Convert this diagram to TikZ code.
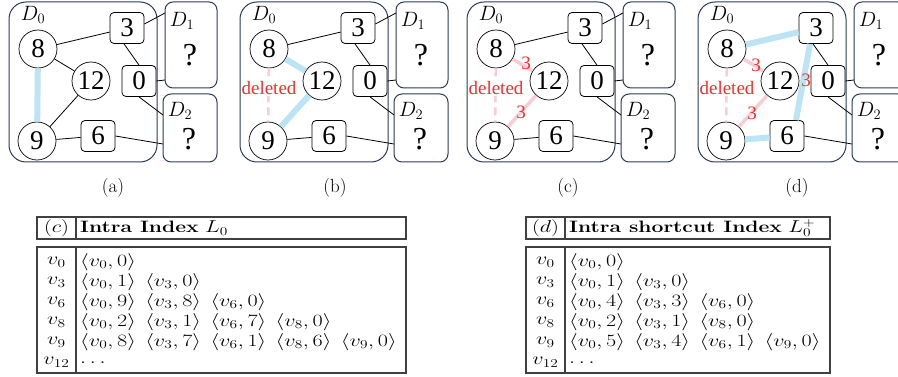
\documentclass[tikz,border=0pt]{standalone}
\usepackage{graphicx}
\usepackage{fontspec}
\newfontfamily\gfont{Liberation Serif}
\usetikzlibrary{calc}
\definecolor{hlblue}{HTML}{BDE4F4}
\definecolor{pinkc}{HTML}{F9CDD3}
\definecolor{redc}{HTML}{FF2A2A}
\definecolor{domc}{HTML}{2B3A5A}
\definecolor{tabc}{HTML}{404040}
\newcommand\tstr[1]{\scalebox{1.28}[1]{#1}}
\newcommand\itm[2]{\langle v_{#1},#2\rangle}
\newcommand\gp{\hspace{0.45em}}
\tikzset{
  vtx/.style={circle, draw, fill=white, minimum size=38pt, inner sep=0pt, line width=0.7pt, font=\gfont\fontsize{27}{27}\selectfont},
  bx/.style={draw, rounded corners=4pt, fill=white, minimum width=34pt, minimum height=31pt, inner sep=0pt, line width=0.8pt, font=\gfont\fontsize{27}{27}\selectfont},
  dombox/.style={draw=domc, line width=1pt, inner sep=0pt},
  dlab/.style={inner sep=0pt, font=\fontsize{22}{22}\selectfont},
  qm/.style={inner sep=0pt, font=\gfont\fontsize{32}{32}\selectfont},
  ln/.style={line width=0.8pt},
  hl/.style={line width=6pt, hlblue},
  pk/.style={line width=3.5pt, pinkc},
  pkd/.style={line width=2.5pt, pinkc, dash pattern=on 8pt off 5pt},
  dellab/.style={fill=white, inner sep=1pt, text=redc, font=\gfont\fontsize{19}{19}\selectfont},
  wlab/.style={inner sep=0pt, text=redc, font=\gfont\fontsize{19}{19}\selectfont},
  captxt/.style={inner sep=0pt, font=\fontsize{19}{19}\selectfont},
  tline/.style={line width=1.2pt, tabc},
  tt/.style={inner sep=0pt, font=\fontsize{16.5}{18}\selectfont},
}
\newcommand\basegraph[2]{%
 \begin{scope}[shift={(#2,0)}]
  \node[dombox, rounded corners=17pt, minimum width=148pt, minimum height=160pt] (#1D0) at (74,82) {};
  \node[dombox, rounded corners=8pt, minimum width=52pt, minimum height=86pt] (#1D1) at (182,45) {};
  \node[dombox, rounded corners=8pt, minimum width=54pt, minimum height=68pt] (#1D2) at (181,128) {};
  \node[dlab] (#1L0) at (24,15) {$D_0$};
  \node[dlab] (#1L1) at (173,21) {$D_1$};
  \node[dlab] (#1L2) at (171,111) {$D_2$};
  \node[qm] (#1q1) at (181,55) {?};
  \node[qm] (#1q2) at (180,139) {?};
  \node[vtx] (#1n8) at (29,49) {8};
  \node[vtx] (#1n12) at (82,81) {12};
  \node[vtx] (#1n9) at (28,141) {9};
  \node[bx] (#1n3) at (118,28) {3};
  \node[bx] (#1n0) at (130,81) {0};
  \node[bx] (#1n6) at (89,136) {6};
  \coordinate (#1c31) at (156,13);
  \coordinate (#1c01) at (156,80);
  \coordinate (#1c02) at (154,115);
  \coordinate (#1c62) at (154,144);
  \coordinate (#1del) at (29,88);
 \end{scope}}
\begin{document}
\begin{tikzpicture}[x=1pt, y=-1pt]
\useasboundingbox (0,0) rectangle (898,377);
\clip (0,0) rectangle (898,377);

% ---------- panel (a)
\basegraph{a}{9}
\draw[ln] (an8) -- (an3);
\draw[ln] (an8) -- (an12);
\draw[ln] (an12) -- (an9);
\draw[ln] (an9) -- (an6);
\draw[ln] ($(an3.south)+(-3,0)$) -- (an0.north);
\draw[ln] ($(an3.east)+(0,-4)$) -- (ac31);
\draw[ln] (an0.east) -- (ac01);
\draw[ln] (an0.south) -- (ac02);
\draw[ln] (an6.east) -- (ac62);
\draw[hl] (an8) -- (an9);
\node[captxt] (capa) at (113,188) {(a)};

% ---------- panel (b)
\basegraph{b}{240}
\draw[ln] (bn8) -- (bn3);
\draw[ln] (bn9) -- (bn6);
\draw[ln] ($(bn3.south)+(-3,0)$) -- (bn0.north);
\draw[ln] ($(bn3.east)+(0,-4)$) -- (bc31);
\draw[ln] (bn0.east) -- (bc01);
\draw[ln] (bn0.south) -- (bc02);
\draw[ln] (bn6.east) -- (bc62);
\draw[hl] (bn8) -- (bn12);
\draw[hl] (bn12) -- (bn9);
\draw[pkd] (bn8) -- (bn9);
\node[dellab] (bd) at (bdel) {deleted};
\node[captxt] (capb) at (335,188) {(b)};

% ---------- panel (c)
\basegraph{c}{467}
\draw[ln] (cn8) -- (cn3);
\draw[ln] (cn9) -- (cn6);
\draw[ln] ($(cn3.south)+(-3,0)$) -- (cn0.north);
\draw[ln] ($(cn3.east)+(0,-4)$) -- (cc31);
\draw[ln] (cn0.east) -- (cc01);
\draw[ln] (cn0.south) -- (cc02);
\draw[ln] (cn6.east) -- (cc62);
\draw[pk] (cn8) -- (cn12);
\draw[pk] (cn12) -- (cn9);
\draw[pkd] (cn8) -- (cn9);
\node[dellab] (cd) at (cdel) {deleted};
\node[wlab] (cw1) at (526,63) {3};
\node[wlab] (cw2) at (521,112) {3};
\node[captxt] (capc) at (568,188) {(c)};

% ---------- panel (d)
\basegraph{d}{698}
\draw[ln] ($(dn3.south)+(-3,0)$) -- (dn0.north);
\draw[ln] (dn0.east) -- (dc01);
\draw[ln] (dn0.south) -- (dc02);
\draw[ln] (dn6.east) -- (dc62);
\draw[pk] (dn8) -- (dn12);
\draw[pk] (dn12) -- (dn9);
\draw[pkd] (dn8) -- (dn9);
\draw[hl] (dn8) -- (dn3);
\draw[hl] ($(dn3.south)+(-6,0)$) -- ($(dn6.north)+(9,0)$);
\draw[hl] (dn9) -- (dn6);
\node[dellab] (dd) at (ddel) {deleted};
\node[wlab] (dw1) at (756,65) {3};
\node[wlab] (dw2) at (752,113) {3};
\node[wlab] (dw3) at (806,80) {3};
\node[captxt] (capd) at (797,188) {(d)};

% ---------- table (c)
\draw[tline] (37,217) rectangle (406,239);
\draw[tline] (76,217) -- (76,239);
\draw[tline] (37,247) rectangle (406,373);
\draw[tline] (76,247) -- (76,373);
\node[tt] (ch0) at (56.5,228) {\tstr{$(c)$}};
\node[tt, anchor=west] (ch1) at (80,228) {\tstr{\textbf{Intra Index} $L_0$}};
\node[tt] (cl0) at (56.5,262) {\tstr{$v_0$}};
\node[tt] (cl3) at (56.5,282) {\tstr{$v_3$}};
\node[tt] (cl6) at (56.5,302) {\tstr{$v_6$}};
\node[tt] (cl8) at (56.5,322) {\tstr{$v_8$}};
\node[tt] (cl9) at (56.5,342) {\tstr{$v_9$}};
\node[tt] (cl12) at (56.5,362) {\tstr{$v_{12}$}};
\node[tt, anchor=west] (cr0) at (80,262) {\tstr{$\itm{0}{0}$}};
\node[tt, anchor=west] (cr3) at (80,282) {\tstr{$\itm{0}{1}\gp\itm{3}{0}$}};
\node[tt, anchor=west] (cr6) at (80,302) {\tstr{$\itm{0}{9}\gp\itm{3}{8}\gp\itm{6}{0}$}};
\node[tt, anchor=west] (cr8) at (80,322) {\tstr{$\itm{0}{2}\gp\itm{3}{1}\gp\itm{6}{7}\gp\itm{8}{0}$}};
\node[tt, anchor=west] (cr9) at (80,342) {\tstr{$\itm{0}{8}\gp\itm{3}{7}\gp\itm{6}{1}\gp\itm{8}{6}\gp\itm{9}{0}$}};
\node[tt, anchor=west] (cr12) at (80,363) {\tstr{$\ldots$}};

% ---------- table (d)
\draw[tline] (526,217) rectangle (830,239);
\draw[tline] (565,217) -- (565,239);
\draw[tline] (526,247) rectangle (830,373);
\draw[tline] (565,247) -- (565,373);
\node[tt] (dh0) at (545.5,228) {\tstr{$(d)$}};
\node[tt, anchor=west] (dh1) at (569,228) {\tstr{\textbf{Intra shortcut Index} $L_0^+$}};
\node[tt] (dl0) at (545.5,262) {\tstr{$v_0$}};
\node[tt] (dl3) at (545.5,282) {\tstr{$v_3$}};
\node[tt] (dl6) at (545.5,302) {\tstr{$v_6$}};
\node[tt] (dl8) at (545.5,322) {\tstr{$v_8$}};
\node[tt] (dl9) at (545.5,342) {\tstr{$v_9$}};
\node[tt] (dl12) at (545.5,362) {\tstr{$v_{12}$}};
\node[tt, anchor=west] (dr0) at (569,262) {\tstr{$\itm{0}{0}$}};
\node[tt, anchor=west] (dr3) at (569,282) {\tstr{$\itm{0}{1}\gp\itm{3}{0}$}};
\node[tt, anchor=west] (dr6) at (569,302) {\tstr{$\itm{0}{4}\gp\itm{3}{3}\gp\itm{6}{0}$}};
\node[tt, anchor=west] (dr8) at (569,322) {\tstr{$\itm{0}{2}\gp\itm{3}{1}\gp\itm{8}{0}$}};
\node[tt, anchor=west] (dr9) at (569,342) {\tstr{$\itm{0}{5}\gp\itm{3}{4}\gp\itm{6}{1}\gp\itm{9}{0}$}};
\node[tt, anchor=west] (dr12) at (569,363) {\tstr{$\ldots$}};
\end{tikzpicture}
\end{document}
